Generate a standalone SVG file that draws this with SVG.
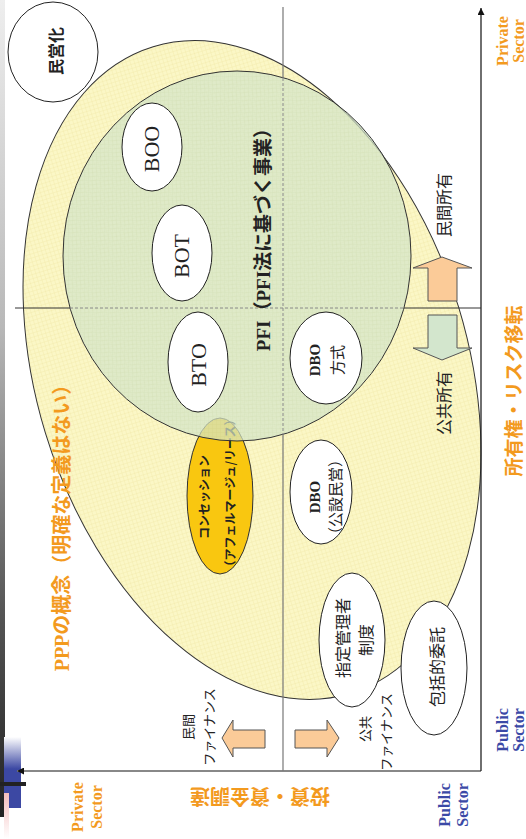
<svg xmlns="http://www.w3.org/2000/svg" width="526" height="839" viewBox="0 0 526 839">
<defs>
<pattern id="gridY" width="4" height="4" patternUnits="userSpaceOnUse">
<rect width="4" height="4" fill="#FBF7C6"/>
<path d="M0 0.25H4M0.25 0V4" stroke="#F1E9A8" stroke-width="0.5"/>
</pattern>
<pattern id="gridG" width="4" height="4" patternUnits="userSpaceOnUse">
<rect width="4" height="4" fill="#D4E5C9"/>
<path d="M0 0.25H4M0.25 0V4" stroke="#C6DAB8" stroke-width="0.5"/>
</pattern>
<linearGradient id="strip" x1="0" y1="0" x2="0" y2="1">
<stop offset="0" stop-color="#EEEEEE"/>
<stop offset="0.4" stop-color="#B8B8B8"/>
<stop offset="0.75" stop-color="#555555"/>
<stop offset="1" stop-color="#222222"/>
</linearGradient>
<linearGradient id="blue" x1="0" y1="0" x2="0" y2="1">
<stop offset="0" stop-color="#FFFFFF"/>
<stop offset="0.45" stop-color="#3C48A3"/>
<stop offset="1" stop-color="#3C48A3"/>
</linearGradient>
<linearGradient id="pink" x1="0" y1="0" x2="0" y2="1">
<stop offset="0" stop-color="#F4BDBD"/>
<stop offset="1" stop-color="#FFFFFF"/>
</linearGradient>
<marker id="ah" viewBox="0 0 10 10" refX="10" refY="5" markerWidth="8" markerHeight="7" markerUnits="userSpaceOnUse" orient="auto">
<path d="M0,0 L10,5 L0,10 z" fill="#111"/>
</marker>
<style>
.node ellipse{fill:#fff;stroke:#222;stroke-width:1}
.jp{font-family:"Noto Sans CJK JP","Noto Sans",sans-serif}
.sf{font-family:"Liberation Serif","Times New Roman",serif}
.org{fill:#F39A1E}
.blu{fill:#3B49A6}
.b{font-weight:bold}
.blk{fill:#222}
.arrow{stroke:#555;stroke-width:1}
</style>
</defs>

<rect width="526" height="839" fill="#fff"/>

<!-- slide decoration -->
<g id="decor">
<rect x="0" y="0" width="5" height="817" fill="url(#strip)"/>
<rect x="4" y="737" width="17" height="71" fill="url(#blue)"/>
<rect x="0" y="782" width="26" height="4" fill="#222"/>
<rect x="4" y="793" width="5" height="46" fill="url(#pink)"/>
</g>

<!-- PPP region -->
<g id="ppp">
<ellipse cx="252" cy="370" rx="338" ry="216" transform="rotate(73 252 370)" fill="url(#gridY)" stroke="#333" stroke-width="1"/>
</g>

<!-- concession node (under translucent PFI circle) -->
<g id="concession">
<ellipse cx="220" cy="496" rx="33" ry="78" fill="#F9C710" stroke="#333" stroke-width="1"/>
<text class="jp b blk" x="209" y="497" font-size="12" text-anchor="middle" transform="rotate(-90 209 497)">コンセッション</text>
<text class="jp b blk" x="235" y="493" font-size="12" text-anchor="middle" transform="rotate(-90 235 493)">（アフェルマージュ/リース）</text>
</g>

<!-- PFI region -->
<g id="pfi">
<ellipse cx="237" cy="256" rx="174" ry="185" fill="url(#gridG)" fill-opacity="0.72" stroke="#333" stroke-width="1"/>
</g>

<!-- connectors: axes and dividers -->
<g id="connectors" fill="none">
<line x1="481" y1="771" x2="17" y2="771" stroke="#888" stroke-width="2" marker-end="url(#ah)"/>
<line x1="481" y1="771" x2="481" y2="8" stroke="#222" stroke-width="1.3" marker-end="url(#ah)"/>
<line x1="283" y1="7" x2="283" y2="78" stroke="#777" stroke-width="1.2"/>
<line x1="283" y1="78" x2="283" y2="434" stroke="#8A8A8A" stroke-width="1" stroke-dasharray="3 2"/>
<line x1="283" y1="434" x2="283" y2="771" stroke="#777" stroke-width="1.2"/>
<line x1="15" y1="308" x2="70" y2="308" stroke="#333" stroke-width="1"/>
<line x1="70" y1="308" x2="404" y2="308" stroke="#8A8A8A" stroke-width="1" stroke-dasharray="3 2"/>
<line x1="404" y1="308" x2="481" y2="308" stroke="#333" stroke-width="1"/>
</g>

<!-- nodes -->
<g id="minei" class="node">
<ellipse cx="53" cy="52" rx="45" ry="50"/>
<text class="jp b blk" x="62" y="51" font-size="16" text-anchor="middle" transform="rotate(-90 62 51)">民営化</text>
</g>
<g id="boo" class="node">
<ellipse cx="152" cy="147" rx="30" ry="44"/>
<text class="sf blk" x="159" y="149" font-size="22" text-anchor="middle" transform="rotate(-90 159 149)">BOO</text>
</g>
<g id="bot" class="node">
<ellipse cx="182" cy="253" rx="30" ry="48"/>
<text class="sf blk" x="189" y="256" font-size="22" text-anchor="middle" transform="rotate(-90 189 256)">BOT</text>
</g>
<g id="bto" class="node">
<ellipse cx="198" cy="362" rx="30" ry="50"/>
<text class="sf blk" x="206" y="365" font-size="22" text-anchor="middle" transform="rotate(-90 206 365)">BTO</text>
</g>
<g id="dbo1" class="node">
<ellipse cx="326" cy="358" rx="36" ry="46"/>
<text class="sf b blk" x="320" y="360" font-size="15" text-anchor="middle" transform="rotate(-90 320 360)">DBO</text>
<text class="jp blk" x="343" y="360" font-size="15" text-anchor="middle" transform="rotate(-90 343 360)">方式</text>
</g>
<g id="dbo2" class="node">
<ellipse cx="321" cy="492" rx="31" ry="52"/>
<text class="sf b blk" x="320" y="497" font-size="15" text-anchor="middle" transform="rotate(-90 320 497)">DBO</text>
<text class="jp blk" x="341" y="497" font-size="15" text-anchor="middle" transform="rotate(-90 341 497)">（公設民営）</text>
</g>
<g id="shitei" class="node">
<ellipse cx="352" cy="640" rx="33" ry="67"/>
<text class="jp blk" x="349" y="638" font-size="16" text-anchor="middle" transform="rotate(-90 349 638)">指定管理者</text>
<text class="jp blk" x="372" y="640" font-size="16" text-anchor="middle" transform="rotate(-90 372 640)">制度</text>
</g>
<g id="houkatsu" class="node">
<ellipse cx="434" cy="668" rx="33" ry="67"/>
<text class="jp blk" x="443" y="667" font-size="16" text-anchor="middle" transform="rotate(-90 443 667)">包括的委託</text>
</g>

<!-- block arrows -->
<g id="arrow-private-own">
<polygon class="arrow" points="442,257 472,268 457,268 457,301 428,301 428,268 413,268" fill="#FBCB98"/>
<text class="jp blk" x="450" y="205" font-size="16" text-anchor="middle" transform="rotate(-90 450 205)">民間所有</text>
</g>
<g id="arrow-public-own">
<polygon class="arrow" points="428,315 457,315 457,348 472,348 442,360 413,348 428,348" fill="#D3E6CD"/>
<text class="jp blk" x="450" y="403" font-size="16" text-anchor="middle" transform="rotate(-90 450 403)">公共所有</text>
</g>
<g id="arrow-private-fin">
<polygon class="arrow" points="222,738 233,720 233,730 265,730 265,748 233,748 233,757" fill="#FBCB98"/>
<text class="jp blk" x="193" y="727" font-size="13" text-anchor="middle" transform="rotate(-90 193 727)">民間</text>
<text class="jp blk" x="214" y="727" font-size="13" text-anchor="middle" transform="rotate(-90 214 727)">ファイナンス</text>
</g>
<g id="arrow-public-fin">
<polygon class="arrow" points="339,738 327,720 327,730 295,730 295,748 327,748 327,757" fill="#FBCB98"/>
<text class="jp blk" x="370" y="729" font-size="13" text-anchor="middle" transform="rotate(-90 370 729)">公共</text>
<text class="jp blk" x="391" y="732" font-size="13" text-anchor="middle" transform="rotate(-90 391 732)">ファイナンス</text>
</g>

<!-- titles and axis labels -->
<g id="labels">
<text class="b org" x="69" y="523" font-size="20" text-anchor="middle" transform="rotate(-90 69 523)"><tspan class="sf">PPP</tspan><tspan class="jp">の概念（明確な定義はない）</tspan></text>
<text class="b blk" x="270" y="235" font-size="19" text-anchor="middle" transform="rotate(-90 270 235)"><tspan class="sf">PFI</tspan><tspan class="jp">（</tspan><tspan class="sf">PFI</tspan><tspan class="jp">法に基づく事業）</tspan></text>
<text class="jp b org" x="521" y="391" font-size="19" text-anchor="middle" transform="rotate(-90 521 391)">所有権・リスク移転</text>
<text class="jp b org" x="260" y="789" font-size="20" text-anchor="middle" transform="rotate(180 260 789)">投資・資金調達</text>
<text class="sf b org" x="83" y="807" font-size="16" text-anchor="middle" transform="rotate(-90 83 807)">Private</text>
<text class="sf b org" x="102" y="807" font-size="16" text-anchor="middle" transform="rotate(-90 102 807)">Sector</text>
<text class="sf b org" x="508" y="41" font-size="16" text-anchor="middle" transform="rotate(-90 508 41)">Private</text>
<text class="sf b org" x="524" y="41" font-size="16" text-anchor="middle" transform="rotate(-90 524 41)">Sector</text>
<text class="sf b blu" x="450" y="805" font-size="16" text-anchor="middle" transform="rotate(-90 450 805)">Public</text>
<text class="sf b blu" x="468" y="805" font-size="16" text-anchor="middle" transform="rotate(-90 468 805)">Sector</text>
<text class="sf b blu" x="508" y="730" font-size="16" text-anchor="middle" transform="rotate(-90 508 730)">Public</text>
<text class="sf b blu" x="524" y="730" font-size="16" text-anchor="middle" transform="rotate(-90 524 730)">Sector</text>
</g>
</svg>
